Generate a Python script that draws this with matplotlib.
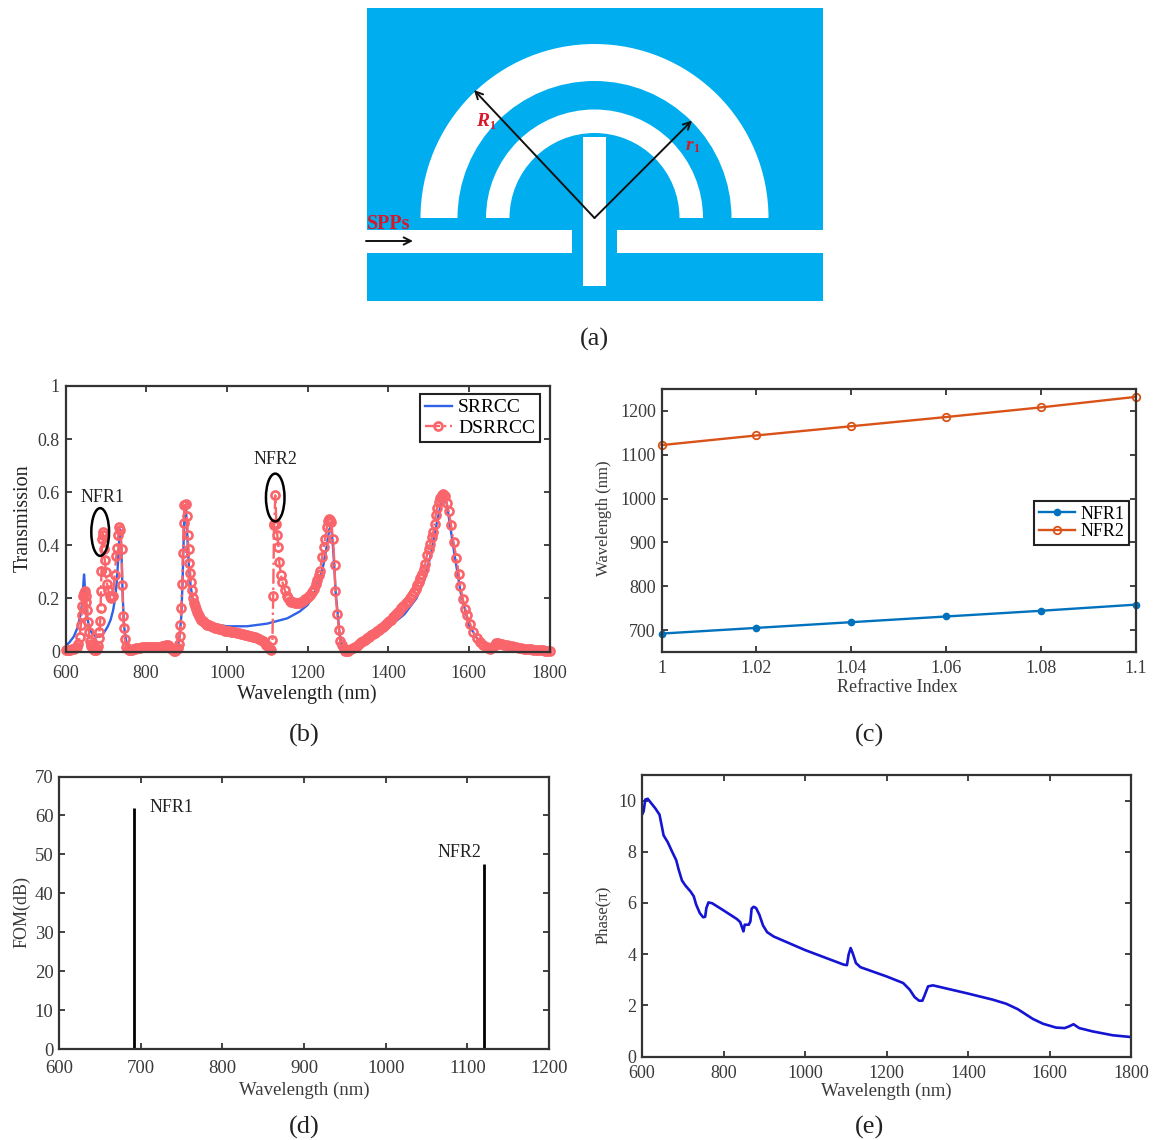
import matplotlib
matplotlib.use("Agg")
import matplotlib.pyplot as plt
from matplotlib.patches import Rectangle, Wedge, Ellipse

plt.rcParams['font.family'] = ['Liberation Serif', 'DejaVu Serif']

W, H = 1155, 1140
DARK = '#333333'
TXT = '#3a3a3a'

# (b) transmission spectra
srrcc_x = [600,610,620,630,636,640,643,645,646,647,648,650,653,658,665,675,685,695,705,712,
           718,723,727,730,733,735,737,739,741,743,745,748,752,760,780,820,850,860,870,878,
           883,887,890,893,895,898,900,903,906,910,915,925,940,960,1000,1050,1100,1150,1180,1200,
           1215,1230,1240,1248,1254,1258,1262,1266,1270,1275,1280,1285,1292,1300,1330,1360,1400,1440,1470,1490,
           1505,1520,1535,1545,1555,1565,1580,1600,1620,1650,1670,1700,1750,1800]
srrcc_y = [.02,.035,.055,.09,.13,.17,.225,.27,.29,.27,.24,.19,.14,.095,.07,.055,.055,.07,.095,.12,
           .155,.2,.26,.33,.42,.46,.44,.36,.25,.17,.1,.06,.03,.012,.012,.017,.02,.012,.004,.01,
           .06,.13,.25,.42,.54,.55,.5,.4,.32,.25,.2,.15,.12,.105,.095,.095,.105,.125,.15,.175,
           .21,.27,.33,.4,.46,.47,.42,.33,.22,.14,.06,.025,.005,.001,.025,.05,.09,.14,.2,.27,
           .36,.48,.585,.56,.46,.36,.22,.1,.05,.012,.03,.022,.01,.002]

dsrrcc_x = [600,604,608,612,616,620,624,628,632,635,638,640,642,644,646,648,650,652,654.5,656,658,660,
            662,664,667,670,673,676,679,681,683,684,686,687,688,689,691,692,693,695,697.5,700,703,706,
            710,714,718,722,726,728,731,733,736,739,741,743,745,747,751,754,757,760,
            764,768,772,776,780,785,790,795,800,805,810,815,820,825,830,835,840,845,
            850,854,857,860,863,866,869,872,875,877,879,881,883,885,887,889,891,893,895,899,901,903,905,907,909,911,
            913,916,919,921,923,925,928,931,934,937,940,944,948,952,956,960,965,970,
            975,980,985,990,995,1000,1005,1010,1015,1020,1025,1030,1035,1040,1045,1050,1055,1060,1065,1070,
            1075,1080,1085,1090,1094,1098,1101,1104,1107,1110,
            1113,1115,1117,1118,1120,1123,1125,1128,1130,1134,1138,1144,1148,
            1152,1156,1160,1165,1170,1175,1180,1185,1190,1195,1200,1205,1210,1215,1220,1224,1228,1231,1236,
            1240,1244,1248,1251,1254,1257,1259,1263,1267,1269,1274,1278,1281,1285,1290,1293,1297,1300,1304,
            1308,1313,1318,1323,1328,1333,1338,1343,1348,1353,1358,1363,1368,1373,1378,1383,1388,1393,1398,1403,
            1408,1413,1418,1423,1428,1433,1438,1443,1448,1453,1458,1463,1468,1472,1476,1480,1484,1488,1492,
            1496,1500,1504,1508,1512,1515,1518,1521,1525,1529,1533,1537,1541,1545,1550,1556,1562,1569,1575,1579,
            1585,1591,1595,1603,1611,1620,1628,1636,1644,1648,1652,1656,1660,1664,1668,1672,1677,
            1682,1688,1694,1700,1706,1712,1718,1724,1730,1736,1742,1748,1754,1760,1766,1772,1778,1784,1790,1795,1800]
dsrrcc_y = [.005,.005,.006,.007,.008,.01,.013,.018,.03,.055,.1,.136,.173,.21,.222,.226,.21,.186,.155,.11,.073,.04,
            .028,.02,.012,.007,.004,.004,.008,.02,.05,.073,.115,.163,.226,.305,.425,.45,.437,.387,.343,.3,.255,.23,
            .21,.2,.21,.29,.36,.39,.44,.47,.456,.387,.25,.135,.09,.048,.016,.009,.005,.004,
            .006,.008,.01,.012,.014,.015,.016,.017,.018,.018,.018,.018,.018,.017,.017,.018,.019,.022,
            .025,.026,.022,.015,.009,.005,.003,.003,.005,.008,.015,.028,.06,.1,.165,.255,.37,.485,.55,.555,.51,.44,.385,.335,.295,.26,
            .23,.2,.182,.17,.16,.15,.14,.132,.125,.12,.115,.11,.105,.101,.098,.095,.092,.09,
            .087,.085,.083,.081,.079,.078,.077,.075,.074,.072,.071,.069,.067,.066,.064,.062,.06,.058,.056,.053,
            .05,.047,.043,.038,.033,.026,.02,.014,.008,.004,
            .045,.21,.478,.48,.588,.48,.44,.395,.337,.29,.26,.23,.21,
            .2,.192,.188,.185,.183,.183,.184,.187,.192,.198,.205,.213,.224,.236,.255,.27,.29,.305,.355,
            .393,.425,.469,.49,.5,.495,.487,.425,.327,.226,.142,.082,.041,.023,.008,.003,.001,.001,.004,
            .008,.012,.017,.022,.028,.034,.039,.044,.05,.055,.061,.066,.071,.076,.082,.088,.094,.1,.106,.113,
            .12,.13,.138,.146,.154,.163,.173,.182,.192,.203,.213,.224,.237,.25,.263,.276,.292,.31,.33,
            .362,.385,.406,.43,.45,.48,.515,.54,.563,.58,.59,.592,.585,.56,.528,.475,.412,.352,.293,.246,
            .198,.161,.136,.104,.073,.05,.036,.024,.016,.012,.01,.012,.018,.025,.031,.031,.03,
            .028,.026,.024,.022,.02,.018,.016,.014,.012,.011,.01,.009,.008,.007,.006,.005,.005,.004,.003,.002,.001]

# (c) resonance wavelength vs refractive index
index_vals = [1, 1.02, 1.04, 1.06, 1.08, 1.1]
nfr1_wl = [692, 705, 718, 731, 744, 758]
nfr2_wl = [1122, 1144, 1165, 1186, 1208, 1232]

# (d) FOM
fom_wl = [692, 1121]
fom_db = [62, 47.5]

# (e) phase
phase_x = [600,604,608,614,620,633,643,647,653,663,674,684,690,698,706,719,727,733,742,750,
           755,758,763,772,800,833,841,846,849,852,862,866,869,874,880,888,897,907,923,1000,
           1095,1103,1107,1112,1117,1125,1136,1200,1241,1257,1269,1280,1288,1294,1302,1314,1400,1461,1494,1522,
           1559,1584,1616,1637,1647,1659,1673,1706,1755,1800]
phase_y = [9.45,9.58,10.04,10.07,9.95,9.69,9.45,9.13,8.64,8.38,8.0,7.67,7.3,6.88,6.69,6.45,6.26,5.93,5.6,5.44,
           5.46,5.8,6.02,5.99,5.71,5.37,5.25,5.02,4.89,5.15,5.15,5.28,5.78,5.85,5.8,5.54,5.12,4.86,4.69,4.16,
           3.59,3.57,3.98,4.24,4.04,3.65,3.49,3.13,2.87,2.61,2.32,2.18,2.18,2.41,2.74,2.78,2.46,2.22,2.06,1.85,
           1.47,1.28,1.13,1.11,1.17,1.26,1.11,.98,.83,.76]

# (a) structure sketch, in picture pixels
box = [366.5, 8, 456.5, 293]
center = [594.5, 218]
outer_ring = [174, 137]
inner_ring = [108.5, 85]
stub = [583, 137, 23, 149]
guide_left = [366.5, 229.5, 205, 23]
guide_right = [617, 229.5, 206, 23]
BLUE_BG = '#00AEEF'


def px_axes(l, t, r, b):
    return fig.add_axes([l / W, 1 - b / H, (r - l) / W, (b - t) / H])


def style(ax, xlim, ylim, xticks, yticks, xlabels, ylabels, size, pad):
    ax.set_xlim(xlim)
    ax.set_ylim(ylim)
    ax.set_xticks(xticks)
    ax.set_yticks(yticks)
    ax.set_xticklabels(xlabels)
    ax.set_yticklabels(ylabels)
    ax.tick_params(direction='in', top=True, right=True, length=4, width=1.3, color=DARK,
                   labelcolor=TXT, labelsize=size)
    ax.tick_params(axis='x', pad=pad)
    ax.tick_params(axis='y', pad=4)
    for s in ax.spines.values():
        s.set_linewidth(1.6)
        s.set_color(DARK)


def panel_text(x, y, s, size=19, **kw):
    fig.text(x / W, 1 - y / H, s, fontsize=size, color=kw.pop('color', '#222222'), ha='center', va='center', **kw)


fig = plt.figure(figsize=(W / 100, H / 100), dpi=100)

# (a)
ax0 = fig.add_axes([0, 0, 1, 1])
ax0.set_xlim(0, W)
ax0.set_ylim(H, 0)
ax0.axis('off')
ax0.add_patch(Rectangle(box[:2], box[2], box[3], fc=BLUE_BG, ec='none'))
ax0.add_patch(Wedge(center, outer_ring[0], 180, 360, width=outer_ring[0] - outer_ring[1], fc='white', ec='none'))
ax0.add_patch(Wedge(center, inner_ring[0], 180, 360, width=inner_ring[0] - inner_ring[1], fc='white', ec='none'))
for r in [stub, guide_left, guide_right]:
    ax0.add_patch(Rectangle(r[:2], r[2], r[3], fc='white', ec='none'))
arrow = dict(arrowstyle='->', color='#111111', lw=1.4, mutation_scale=13, shrinkA=0, shrinkB=0)
ax0.annotate('', xy=(474, 90), xytext=center, arrowprops=arrow)
ax0.annotate('', xy=(692, 120.5), xytext=center, arrowprops=arrow)
ax0.annotate('', xy=(413, 241), xytext=(366, 241), arrowprops=arrow)
RED = '#D7182A'
panel_text(389, 224, 'SPPs', size=14.5, color=RED, fontweight='bold')
panel_text(483, 121, 'R', size=14, color=RED, fontweight='bold', fontstyle='italic')
panel_text(492, 126, '1', size=8.5, color=RED, fontweight='bold')
panel_text(689, 145, 'r', size=14, color=RED, fontweight='bold', fontstyle='italic')
panel_text(696, 149, '1', size=8.5, color=RED, fontweight='bold')
panel_text(594, 339, '(a)')

# (b)
ax1 = px_axes(65.5, 386, 549.5, 651.5)
line1, = ax1.plot(srrcc_x, srrcc_y, color='#2F62E6', lw=1.7, label='SRRCC')
line2, = ax1.plot(dsrrcc_x, dsrrcc_y, color='#F9656A', lw=1.7, ls='-.', marker='o', ms=5.8,
                  mfc='none', mew=1.9, clip_on=False, label='DSRRCC')
style(ax1, (600, 1800), (0, 1), [600, 800, 1000, 1200, 1400, 1600, 1800], [0, .2, .4, .6, .8, 1],
      ['600', '800', '1000', '1200', '1400', '1600', '1800'], ['0', '0.2', '0.4', '0.6', '0.8', '1'], 13, 10)
ax1.add_patch(Ellipse((686, .45), 44, .18, fc='none', ec='black', lw=1.8, zorder=5))
ax1.add_patch(Ellipse((1120, .58), 46, .18, fc='none', ec='black', lw=1.8, zorder=5))
ax1.text(693, .58, 'NFR1', fontsize=13, color='#222222', ha='center', va='center')
ax1.text(1120, .723, 'NFR2', fontsize=13, color='#222222', ha='center', va='center')
ax1.legend(loc='upper left', bbox_to_anchor=(420 / W, 1 - 394 / H), bbox_transform=fig.transFigure,
           fontsize=14, fancybox=False, framealpha=1, edgecolor='#222222', borderaxespad=0,
           borderpad=0.25, labelspacing=0.15, handlelength=1.4, handletextpad=0.3).get_frame().set_linewidth(1.5)
panel_text(307, 694, 'Wavelength (nm)', size=14.5)
panel_text(23, 518, 'Transmission', size=14.5, rotation=90)
panel_text(304, 735, '(b)')

# (c)
ax2 = px_axes(661.5, 389, 1135.5, 652)
ax2.plot(index_vals, nfr1_wl, color='#0072BD', lw=1.7, marker='o', ms=4.5, clip_on=False, label='NFR1')
ax2.plot(index_vals, nfr2_wl, color='#D95319', lw=1.7, marker='o', ms=5.4, mfc='none', mew=1.3,
         clip_on=False, label='NFR2')
style(ax2, (1, 1.1), (650, 1250), index_vals, [700, 800, 900, 1000, 1100, 1200],
      ['1', '1.02', '1.04', '1.06', '1.08', '1.1'], ['700', '800', '900', '1000', '1100', '1200'], 13, 6)
ax2.legend(loc='upper left', bbox_to_anchor=(1034 / W, 1 - 501 / H), bbox_transform=fig.transFigure,
           fontsize=13, fancybox=False, framealpha=1, edgecolor='#222222', borderaxespad=0,
           borderpad=0.25, labelspacing=0.05, handlelength=2.0, handletextpad=0.3).get_frame().set_linewidth(1.5)
panel_text(897, 688, 'Refractive Index', size=13, color=TXT)
panel_text(604, 518, 'Wavelength (nm)', size=12, color=TXT, rotation=90)
panel_text(870, 735, '(c)')

# (d)
ax3 = px_axes(59, 776.5, 549, 1049)
ax3.vlines(fom_wl, 0, fom_db, color='black', lw=2)
style(ax3, (600, 1200), (0, 70), [600, 700, 800, 900, 1000, 1100, 1200], [0, 10, 20, 30, 40, 50, 60, 70],
      ['600', '700', '800', '900', '1000', '1100', '1200'], ['0', '10', '20', '30', '40', '50', '60', '70'], 13.5, 8)
ax3.text(738, 62, 'NFR1', fontsize=13, color='#222222', ha='center', va='center')
ax3.text(1090, 50.5, 'NFR2', fontsize=13, color='#222222', ha='center', va='center')
panel_text(304, 1090, 'Wavelength (nm)', size=13.5, color=TXT)
panel_text(22, 912, 'FOM(dB)', size=13, color=TXT, rotation=90)
panel_text(304, 1127, '(d)')

# (e)
ax4 = px_axes(642, 775, 1131, 1056.5)
ax4.plot(phase_x, phase_y, color='#1414D2', lw=1.9)
style(ax4, (600, 1800), (0, 11), [600, 800, 1000, 1200, 1400, 1600, 1800], [0, 2, 4, 6, 8, 10],
      ['600', '800', '1000', '1200', '1400', '1600', '1800'], ['0', '2', '4', '6', '8', '10'], 13, 6)
panel_text(886, 1091, 'Wavelength (nm)', size=13.5, color=TXT)
panel_text(603, 915, 'Phase(\u03c0)', size=12, color=TXT, rotation=90)
panel_text(870, 1127, '(e)')

fig.savefig('out.png', dpi=100)
